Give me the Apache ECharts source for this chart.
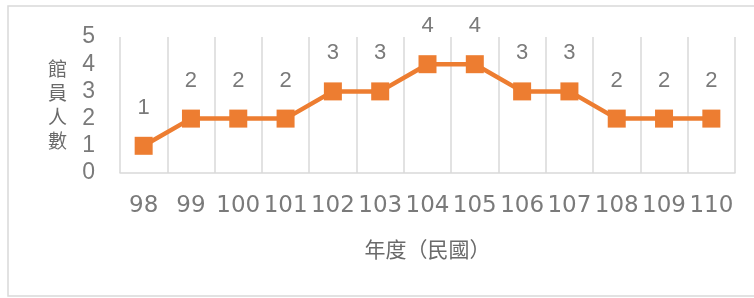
<!DOCTYPE html>
<html>
<head>
<meta charset="utf-8">
<script src="https://cdn.jsdelivr.net/npm/echarts@6/dist/echarts.min.js"></script>
<style>
  html, body { margin: 0; padding: 0; background: #fff; }
  #chart { width: 754px; height: 298px; }
</style>
</head>
<body>
<div id="chart"></div>
<script>
// 年度（民國）
const years = ['98', '99', '100', '101', '102', '103', '104', '105', '106', '107', '108', '109', '110']
// 館員人數
const staffCount = [1, 2, 2, 2, 3, 3, 4, 4, 3, 3, 2, 2, 2]

const lineColor = '#ED7D31'
const textColor = '#7a7a7a'

const chart = echarts.init(document.getElementById('chart'))
const options = {
  animation: false,
  graphic: [
    {
      type: 'rect',
      shape: { x: 8, y: 6, width: 760, height: 290 },
      style: { fill: 'none', stroke: '#d9d9d9', lineWidth: 1.5 }
    }
  ],
  grid: {
    left: 120,
    right: 19,
    top: 37,
    bottom: 125
  },
  xAxis: {
    type: 'category',
    data: years,
    boundaryGap: true,
    name: '年度（民國）',
    nameLocation: 'middle',
    nameGap: 66,
    nameTextStyle: {
      fontFamily: 'Noto Sans CJK TC',
      fontSize: 21,
      color: '#6a6a6a'
    },
    axisLine: { show: true, lineStyle: { color: '#d9d9d9', width: 1.5 } },
    axisTick: { show: false },
    axisLabel: {
      interval: 0,
      margin: 22,
      fontFamily: 'DejaVu Sans',
      fontSize: 23,
      color: textColor
    },
    splitLine: {
      show: true,
      interval: 0,
      lineStyle: { color: '#d9d9d9', width: 1.5 }
    }
  },
  yAxis: {
    type: 'value',
    min: 0,
    max: 5,
    interval: 1,
    name: '館\n員\n人\n數',
    nameLocation: 'middle',
    nameRotate: 0,
    nameGap: 53,
    nameTextStyle: {
      fontFamily: 'Noto Sans CJK TC',
      fontSize: 19,
      lineHeight: 24,
      color: '#6a6a6a'
    },
    axisLine: { show: false },
    axisTick: { show: false },
    splitLine: { show: false },
    axisLabel: {
      margin: 25,
      fontFamily: 'Liberation Sans',
      fontSize: 23,
      color: textColor
    }
  },
  series: [
    {
      name: '館員人數',
      type: 'line',
      data: staffCount,
      symbol: 'rect',
      symbolSize: 18,
      itemStyle: { color: lineColor },
      lineStyle: { color: lineColor, width: 4.5 },
      label: {
        show: true,
        position: 'top',
        distance: 18,
        fontFamily: 'Liberation Sans',
        fontSize: 22,
        color: textColor
      }
    }
  ]
}
chart.setOption(options)
</script>
</body>
</html>
